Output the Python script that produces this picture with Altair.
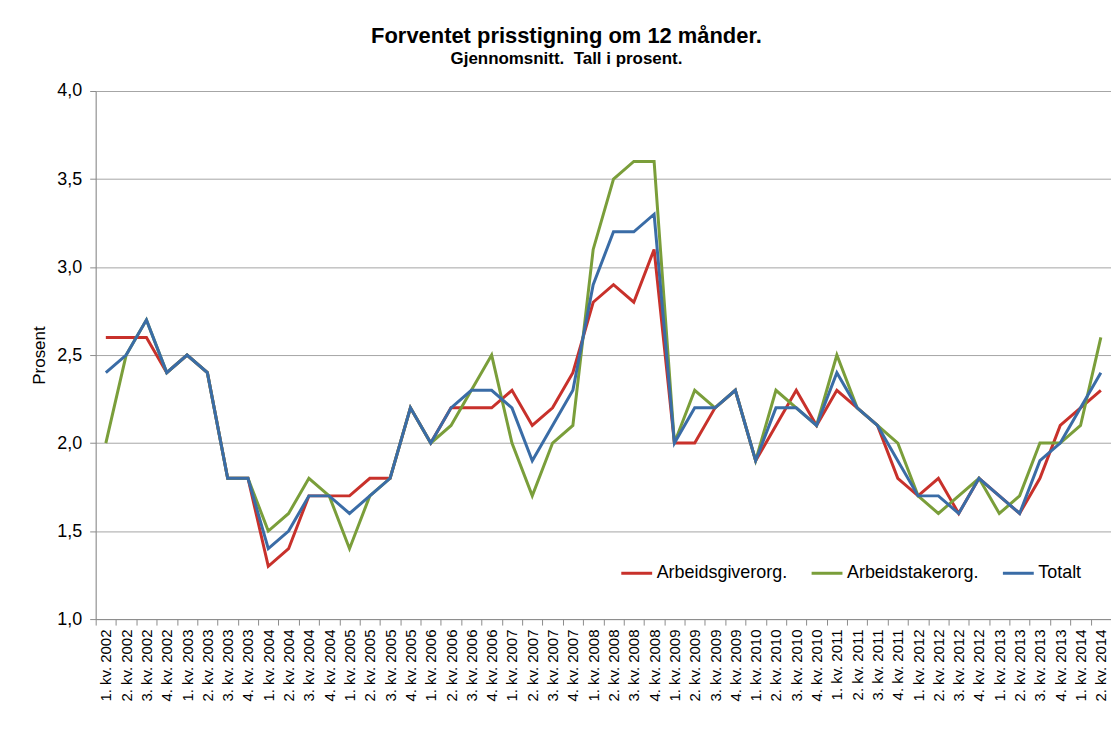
import altair as alt
import pandas as pd

quarters = [f"{q}. kv. {y}" for y in range(2002, 2015) for q in range(1, 5)][:50]

arbeidsgiver = [2.6, 2.6, 2.6, 2.4, 2.5, 2.4, 1.8, 1.8, 1.3, 1.4, 1.7, 1.7,
                1.7, 1.8, 1.8, 2.2, 2.0, 2.2, 2.2, 2.2, 2.3, 2.1, 2.2, 2.4,
                2.8, 2.9, 2.8, 3.1, 2.0, 2.0, 2.2, 2.3, 1.9, 2.1, 2.3, 2.1,
                2.3, 2.2, 2.1, 1.8, 1.7, 1.8, 1.6, 1.8, 1.7, 1.6, 1.8, 2.1,
                2.2, 2.3]
arbeidstaker = [2.0, 2.5, 2.7, 2.4, 2.5, 2.4, 1.8, 1.8, 1.5, 1.6, 1.8, 1.7,
                1.4, 1.7, 1.8, 2.2, 2.0, 2.1, 2.3, 2.5, 2.0, 1.7, 2.0, 2.1,
                3.1, 3.5, 3.6, 3.6, 2.0, 2.3, 2.2, 2.3, 1.9, 2.3, 2.2, 2.1,
                2.5, 2.2, 2.1, 2.0, 1.7, 1.6, 1.7, 1.8, 1.6, 1.7, 2.0, 2.0,
                2.1, 2.6]
totalt = [2.4, 2.5, 2.7, 2.4, 2.5, 2.4, 1.8, 1.8, 1.4, 1.5, 1.7, 1.7,
          1.6, 1.7, 1.8, 2.2, 2.0, 2.2, 2.3, 2.3, 2.2, 1.9, 2.1, 2.3,
          2.9, 3.2, 3.2, 3.3, 2.0, 2.2, 2.2, 2.3, 1.9, 2.2, 2.2, 2.1,
          2.4, 2.2, 2.1, 1.9, 1.7, 1.7, 1.6, 1.8, 1.7, 1.6, 1.9, 2.0,
          2.2, 2.4]

series_names = ["Arbeidsgiverorg.", "Arbeidstakerorg.", "Totalt"]
series_colors = ["#C8312B", "#7A9E3A", "#3A6CA6"]

rows = []
for name, vals in zip(series_names, [arbeidsgiver, arbeidstaker, totalt]):
    for q, v in zip(quarters, vals):
        rows.append({"Kvartal": q, "Serie": name, "Verdi": v})
df = pd.DataFrame(rows)

FONT = "Liberation Sans"

chart = alt.Chart(df).mark_line(strokeWidth=3, strokeJoin="miter").encode(
    x=alt.X("Kvartal:N", sort=quarters, bandPosition=0.5,
            scale=alt.Scale(type="band", paddingInner=0, paddingOuter=0),
            axis=alt.Axis(title=None, labelAngle=-90, tickBand="extent",
                          labelFontSize=15, labelColor="#000000", labelFont=FONT,
                          domainColor="#8C8C8C", tickColor="#8C8C8C", tickSize=6,
                          labelPadding=4, grid=False)),
    y=alt.Y("Verdi:Q",
            scale=alt.Scale(domain=[1.0, 4.0], nice=False, zero=False),
            axis=alt.Axis(title="Prosent", values=[1.0, 1.5, 2.0, 2.5, 3.0, 3.5, 4.0],
                          labelExpr="replace(format(datum.value, '.1f'), '.', ',')",
                          labelFontSize=18, labelColor="#000000", labelFont=FONT,
                          titleFont=FONT, titleFontSize=17, titleFontWeight="normal",
                          titleColor="#000000", titlePadding=8,
                          domainColor="#8C8C8C", tickColor="#8C8C8C", tickSize=6,
                          gridColor="#A6A6A6", gridWidth=1, labelPadding=8)),
    color=alt.Color("Serie:N",
                    scale=alt.Scale(domain=series_names, range=series_colors),
                    legend=alt.Legend(title=None, orient="none", direction="horizontal",
                                      legendX=526, legendY=467,
                                      symbolType="stroke", symbolStrokeWidth=3,
                                      symbolSize=960, labelFontSize=18, labelFont=FONT,
                                      labelColor="#000000", columnPadding=17,
                                      labelOffset=3)),
).properties(
    width=1019,
    height=530,
    title=alt.TitleParams(
        text="Forventet prisstigning om 12 månder.",
        subtitle="Gjennomsnitt.\u00a0 Tall i prosent.",
        font=FONT, fontSize=22, fontWeight="bold", color="#000000",
        subtitleFont=FONT, subtitleFontSize=17, subtitleFontWeight="bold",
        subtitleColor="#000000", anchor="middle", dx=-37, offset=14,
        subtitlePadding=3),
    autosize=alt.AutoSizeParams(type="none"),
    padding={"left": 88, "top": 82, "right": 0, "bottom": 110},
).configure_view(stroke=None).configure(background="#FFFFFF")

chart.save("out.html", embed_options={"renderer": "svg", "actions": False})
